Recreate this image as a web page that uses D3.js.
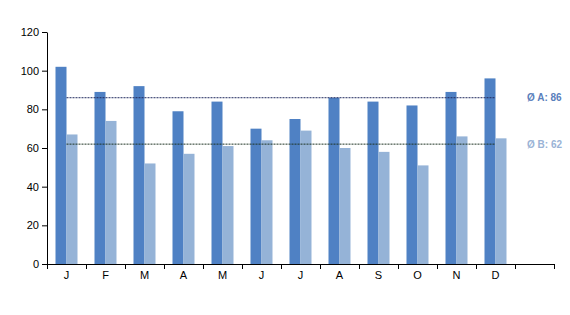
<!DOCTYPE html>
<html>
<head>
<meta charset="utf-8">
<script src="https://cdn.jsdelivr.net/npm/d3@7"></script>
<style>
  body { margin: 0; background: #fff; }
  text { font-family: "Liberation Sans", Arial, sans-serif; }
</style>
</head>
<body>
<div id="chart"></div>
<script>
'use strict';

const months = ['J', 'F', 'M', 'A', 'M', 'J', 'J', 'A', 'S', 'O', 'N', 'D'];
const seriesA = [102, 89, 92, 79, 84, 70, 75, 86, 84, 82, 89, 96];
const seriesB = [67, 74, 52, 57, 61, 64, 69, 60, 58, 51, 66, 65];
const yTicks = [0, 20, 40, 60, 80, 100, 120];

const W = 570, H = 315;
const plotLeft = 47, plotRight = 554, plotTop = 32, plotBottom = 264;

const svg = d3.select('#chart').append('svg')
    .attr('width', W)
    .attr('height', H);

// 13 slots: 12 months plus an empty one for the average labels
const x = d3.scaleBand()
    .domain(d3.range(13))
    .range([plotLeft, plotRight]);

const xInner = d3.scaleBand()
    .domain(['A', 'B'])
    .range([0, 22]);

const y = d3.scaleLinear()
    .domain([0, 120])
    .range([plotBottom, plotTop]);

const avgA = Math.round(d3.mean(seriesA));
const avgB = Math.round(d3.mean(seriesB));

const colA = '#4f81c4', colB = '#95b3d7';

const data = months.map((m, i) => ({ i, a: seriesA[i], b: seriesB[i] }));

const groups = svg.selectAll('.month')
    .data(data)
  .enter().append('g')
    .attr('class', 'month')
    .attr('transform', d => `translate(${x(d.i) + x.bandwidth() / 2 - 11}, 0)`);

groups.append('rect')
    .attr('x', xInner('A'))
    .attr('width', xInner.bandwidth())
    .attr('y', d => y(d.a))
    .attr('height', d => y(0) - y(d.a))
    .attr('fill', colA);

groups.append('rect')
    .attr('x', xInner('B'))
    .attr('width', xInner.bandwidth())
    .attr('y', d => y(d.b))
    .attr('height', d => y(0) - y(d.b))
    .attr('fill', colB);

// y axis
const yAxis = d3.axisLeft(y)
    .tickValues(yTicks)
    .tickSizeInner(5)
    .tickSizeOuter(0)
    .tickPadding(3);

const gy = svg.append('g')
    .attr('transform', `translate(${plotLeft}, 0)`)
    .call(yAxis);
gy.selectAll('text').attr('font-size', 11).attr('fill', '#000');
gy.selectAll('line, path').attr('stroke', '#000');

// x axis: ticks at slot boundaries, labels at slot centres
const xb = d3.scaleLinear().domain([0, 13]).range([plotLeft, plotRight]);
const gx = svg.append('g')
    .attr('transform', `translate(0, ${plotBottom})`)
    .call(d3.axisBottom(xb).ticks(13).tickSizeInner(5).tickSizeOuter(0).tickFormat(''));
gx.selectAll('line, path').attr('stroke', '#000');

const gxl = svg.append('g')
    .attr('transform', `translate(0, ${plotBottom})`)
    .call(d3.axisBottom(x).tickSize(0).tickPadding(7).tickFormat(i => months[i] || ''));
gxl.select('.domain').remove();
gxl.selectAll('text').attr('font-size', 11).attr('fill', '#000');

// average lines
const x0 = x(0) + x.bandwidth() / 2, x1 = x(11) + x.bandwidth() / 2;

svg.append('line')
    .attr('x1', x0).attr('x2', x1)
    .attr('y1', y(avgA)).attr('y2', y(avgA))
    .attr('stroke', '#1f2a5e')
    .attr('stroke-dasharray', '2,1');

svg.append('line')
    .attr('x1', x0).attr('x2', x1)
    .attr('y1', y(avgB)).attr('y2', y(avgB))
    .attr('stroke', '#1f3324')
    .attr('stroke-dasharray', '2,1');

svg.append('text')
    .attr('x', 527)
    .attr('y', y(avgA))
    .attr('dy', '0.35em')
    .attr('font-size', 10)
    .attr('font-weight', 'bold')
    .attr('fill', '#5a80bc')
    .text(`Ø A: ${avgA}`);

svg.append('text')
    .attr('x', 527)
    .attr('y', y(avgB))
    .attr('dy', '0.35em')
    .attr('font-size', 10)
    .attr('font-weight', 'bold')
    .attr('fill', '#9ab3d6')
    .text(`Ø B: ${avgB}`);
</script>
</body>
</html>
